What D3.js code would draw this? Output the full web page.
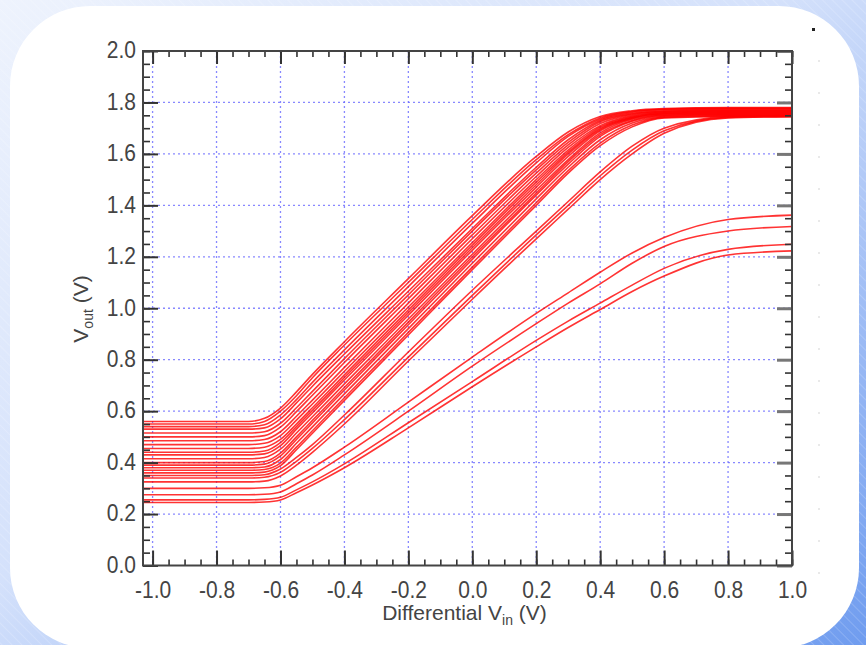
<!DOCTYPE html>
<html>
<head>
<meta charset="utf-8">
<script src="https://cdn.jsdelivr.net/npm/d3@7/dist/d3.min.js"></script>
<style>
  html, body { margin: 0; padding: 0; background: #fff; }
  svg { display: block; }
  text { font-family: "Liberation Sans", Arial, sans-serif; }
</style>
</head>
<body>
<svg id="chart" width="866" height="645"></svg>
<script>
// Differential input sweep (V) at which each run's output was sampled
const vin = [-1.03, -0.7, -0.65, -0.6, -0.55, -0.5, -0.4, -0.2, 0.0, 0.2, 0.3, 0.4, 0.5, 0.6, 0.8, 1.0];

// Main cluster of Monte Carlo runs, Vout (V)
const mainRuns = [
  [0.56, 0.56, 0.572, 0.612, 0.675, 0.743, 0.870, 1.115, 1.360, 1.590, 1.685, 1.745, 1.768, 1.776, 1.780, 1.780],
  [0.55, 0.55, 0.560, 0.600, 0.660, 0.730, 0.857, 1.100, 1.345, 1.578, 1.675, 1.740, 1.765, 1.774, 1.778, 1.778],
  [0.54, 0.54, 0.547, 0.585, 0.645, 0.712, 0.838, 1.084, 1.330, 1.565, 1.668, 1.735, 1.762, 1.772, 1.776, 1.776],
  [0.53, 0.53, 0.535, 0.570, 0.632, 0.697, 0.822, 1.066, 1.310, 1.548, 1.655, 1.730, 1.758, 1.768, 1.772, 1.772],
  [0.515, 0.515, 0.520, 0.553, 0.613, 0.677, 0.804, 1.052, 1.300, 1.538, 1.645, 1.725, 1.755, 1.766, 1.770, 1.770],
  [0.50, 0.50, 0.505, 0.538, 0.598, 0.662, 0.789, 1.037, 1.285, 1.525, 1.635, 1.718, 1.752, 1.764, 1.768, 1.768],
  [0.485, 0.485, 0.490, 0.520, 0.580, 0.643, 0.770, 1.020, 1.270, 1.512, 1.625, 1.710, 1.748, 1.762, 1.766, 1.766],
  [0.47, 0.47, 0.475, 0.505, 0.565, 0.628, 0.755, 1.005, 1.255, 1.500, 1.615, 1.705, 1.745, 1.760, 1.764, 1.764],
  [0.455, 0.455, 0.460, 0.490, 0.550, 0.613, 0.741, 0.993, 1.245, 1.490, 1.607, 1.700, 1.742, 1.758, 1.762, 1.762],
  [0.44, 0.44, 0.445, 0.478, 0.540, 0.603, 0.731, 0.983, 1.235, 1.480, 1.600, 1.695, 1.740, 1.756, 1.760, 1.760],
  [0.43, 0.43, 0.434, 0.466, 0.530, 0.593, 0.721, 0.973, 1.225, 1.470, 1.590, 1.690, 1.738, 1.755, 1.758, 1.758],
  [0.415, 0.415, 0.420, 0.452, 0.515, 0.578, 0.706, 0.958, 1.210, 1.458, 1.578, 1.682, 1.735, 1.752, 1.756, 1.756],
  [0.40, 0.40, 0.404, 0.437, 0.500, 0.564, 0.692, 0.946, 1.200, 1.448, 1.570, 1.675, 1.730, 1.750, 1.754, 1.754],
  [0.39, 0.39, 0.394, 0.426, 0.490, 0.554, 0.682, 0.936, 1.190, 1.440, 1.560, 1.668, 1.727, 1.748, 1.752, 1.752],
  [0.38, 0.38, 0.383, 0.412, 0.475, 0.539, 0.667, 0.921, 1.175, 1.425, 1.548, 1.655, 1.720, 1.745, 1.750, 1.750],
  [0.37, 0.37, 0.373, 0.398, 0.460, 0.524, 0.652, 0.906, 1.160, 1.410, 1.535, 1.642, 1.712, 1.742, 1.748, 1.748],
  [0.36, 0.36, 0.363, 0.388, 0.450, 0.514, 0.642, 0.896, 1.150, 1.400, 1.525, 1.632, 1.705, 1.740, 1.746, 1.746]
];

// Slower runs that still reach the upper rail
const slowRuns = [
  [0.35, 0.35, 0.353, 0.375, 0.420, 0.470, 0.585, 0.830, 1.070, 1.300, 1.415, 1.530, 1.630, 1.700, 1.745, 1.750],
  [0.34, 0.34, 0.343, 0.362, 0.405, 0.455, 0.567, 0.810, 1.050, 1.285, 1.400, 1.515, 1.615, 1.690, 1.742, 1.746],
  [0.325, 0.325, 0.328, 0.348, 0.390, 0.440, 0.550, 0.795, 1.035, 1.270, 1.385, 1.500, 1.600, 1.680, 1.740, 1.745]
];

// Low-gain runs that settle well below the rail
const lowRuns = [
  [0.30, 0.30, 0.302, 0.312, 0.345, 0.380, 0.460, 0.635, 0.810, 0.980, 1.060, 1.140, 1.215, 1.275, 1.345, 1.362],
  [0.275, 0.275, 0.277, 0.286, 0.318, 0.352, 0.430, 0.600, 0.775, 0.940, 1.020, 1.095, 1.175, 1.240, 1.300, 1.318],
  [0.255, 0.255, 0.257, 0.265, 0.294, 0.325, 0.395, 0.555, 0.715, 0.875, 0.950, 1.020, 1.090, 1.155, 1.229, 1.249],
  [0.245, 0.245, 0.247, 0.255, 0.283, 0.313, 0.380, 0.535, 0.695, 0.850, 0.925, 0.995, 1.065, 1.125, 1.207, 1.223]
];

const xTicks = [-1.0, -0.8, -0.6, -0.4, -0.2, 0.0, 0.2, 0.4, 0.6, 0.8, 1.0];
const yTicks = [0.0, 0.2, 0.4, 0.6, 0.8, 1.0, 1.2, 1.4, 1.6, 1.8, 2.0];
const xMinor = d3.range(-1.0, 1.0001, 0.05).map(v => +v.toFixed(2));
const yMinor = d3.range(0.0, 2.0001, 0.05).map(v => +v.toFixed(2));

const svg = d3.select("#chart");
const W = 866, H = 645;

// ---- backdrop: blue gradient with fine diagonal hatching, white card ----
const defs = svg.append("defs");
const bg = defs.append("linearGradient").attr("id", "bgGrad")
  .attr("x1", "0%").attr("y1", "0%").attr("x2", "100%").attr("y2", "100%");
bg.append("stop").attr("offset", "0%").attr("stop-color", "#eef3fd");
bg.append("stop").attr("offset", "45%").attr("stop-color", "#d4e1fb");
bg.append("stop").attr("offset", "100%").attr("stop-color", "#6f9cef");
const hatch = defs.append("pattern").attr("id", "hatch")
  .attr("width", 7).attr("height", 7).attr("patternUnits", "userSpaceOnUse")
  .attr("patternTransform", "rotate(-45)");
hatch.append("line").attr("x1", 0).attr("y1", 0).attr("x2", 0).attr("y2", 7)
  .attr("stroke", "#ffffff").attr("stroke-width", 1).attr("stroke-opacity", 0.35);

svg.append("rect").attr("width", W).attr("height", H).attr("fill", "url(#bgGrad)");
svg.append("rect").attr("width", W).attr("height", H).attr("fill", "url(#hatch)");
svg.append("rect").attr("x", 10).attr("y", 6).attr("width", 849).attr("height", 642)
  .attr("rx", 80).attr("fill", "#ffffff");

// ---- plot area ----
const plotL = 143, plotR = 792, plotT = 51, plotB = 565.5;
const x = d3.scaleLinear().domain([-1.03, 1.0]).range([plotL, plotR]);
const y = d3.scaleLinear().domain([0, 2.0]).range([plotB, plotT]);

// dotted blue grid
const grid = svg.append("g").attr("stroke", "#6a6aff").attr("stroke-width", 1.3)
  .attr("stroke-dasharray", "2,3").attr("stroke-opacity", 0.8);
grid.selectAll("line.v").data(xTicks.filter(v => v < 1.0)).join("line")
  .attr("x1", d => x(d)).attr("x2", d => x(d)).attr("y1", plotT).attr("y2", plotB);
grid.selectAll("line.h").data(yTicks.filter(v => v > 0 && v < 2.0)).join("line")
  .attr("x1", plotL).attr("x2", plotR).attr("y1", d => y(d)).attr("y2", d => y(d));

// traces
const line = d3.line().x((d, i) => x(vin[i])).y(d => y(d)).curve(d3.curveMonotoneX);
const traces = svg.append("g").attr("fill", "none").attr("stroke", "#ff0000")
  .attr("stroke-width", 1.6).attr("stroke-opacity", 0.8);
[lowRuns, slowRuns, mainRuns].forEach(group => {
  traces.append("g").selectAll("path").data(group).join("path").attr("d", line);
});

// axes with inward ticks on all four sides
function styleAxis(g, color, width) {
  g.select(".domain").remove();
  g.selectAll(".tick line").attr("stroke", color).attr("stroke-width", width);
}
const labelColor = "#444";
const stretch = "scale(1,1.15)";

// minor ticks
svg.append("g").attr("transform", `translate(${plotL},0)`)
  .call(d3.axisLeft(y).tickValues(yMinor).tickSize(-7).tickFormat(""))
  .call(g => styleAxis(g, "#333", 1.6));
svg.append("g").attr("transform", `translate(${plotR},0)`)
  .call(d3.axisRight(y).tickValues(yMinor).tickSize(-7).tickFormat(""))
  .call(g => styleAxis(g, "#333", 1.6));
svg.append("g").attr("transform", `translate(0,${plotB})`)
  .call(d3.axisBottom(x).tickValues(xMinor).tickSize(-6).tickFormat(""))
  .call(g => styleAxis(g, "#333", 1.6));
svg.append("g").attr("transform", `translate(0,${plotT})`)
  .call(d3.axisTop(x).tickValues(xMinor).tickSize(-6).tickFormat(""))
  .call(g => styleAxis(g, "#333", 1.6));

// major ticks + labels
const fmt = d3.format(".1f");
svg.append("g").attr("transform", `translate(${plotL},0)`)
  .call(d3.axisLeft(y).tickValues(yTicks).tickSize(-15).tickPadding(7).tickFormat(fmt))
  .call(g => styleAxis(g, "#333", 2))
  .call(g => g.selectAll("text").attr("fill", labelColor).attr("font-size", 21)
    .attr("dy", "0.28em").attr("transform", stretch));
svg.append("g").attr("transform", `translate(${plotR},0)`)
  .call(d3.axisRight(y).tickValues(yTicks).tickSize(-15).tickFormat(""))
  .call(g => styleAxis(g, "#777", 3));
svg.append("g").attr("transform", `translate(0,${plotB})`)
  .call(d3.axisBottom(x).tickValues(xTicks).tickSize(-15).tickPadding(13).tickFormat(d => fmt(d).replace("\u2212", "-")))
  .call(g => styleAxis(g, "#333", 2))
  .call(g => g.selectAll("text").attr("fill", labelColor).attr("font-size", 21).attr("transform", stretch));
svg.append("g").attr("transform", `translate(0,${plotT})`)
  .call(d3.axisTop(x).tickValues(xTicks).tickSize(-13).tickFormat(""))
  .call(g => styleAxis(g, "#333", 2));

// frame
svg.append("rect").attr("x", plotL).attr("y", plotT)
  .attr("width", plotR - plotL).attr("height", plotB - plotT)
  .attr("fill", "none").attr("stroke", "#444").attr("stroke-width", 2);

// axis titles
const xt = svg.append("text").attr("x", (plotL + plotR) / 2 - 3).attr("y", 620)
  .attr("text-anchor", "middle").attr("font-size", 21).attr("fill", labelColor);
xt.append("tspan").text("Differential V");
xt.append("tspan").attr("font-size", 14).attr("dy", 5).text("in");
xt.append("tspan").attr("dy", -5).text(" (V)");

const yt = svg.append("text").attr("transform", "translate(88,309) rotate(-90)")
  .attr("text-anchor", "middle").attr("font-size", 21).attr("fill", labelColor);
yt.append("tspan").text("V");
yt.append("tspan").attr("font-size", 14).attr("dy", 5).text("out");
yt.append("tspan").attr("dy", -5).text(" (V)");

// small stray marks at the right edge of the card
svg.append("rect").attr("x", 812).attr("y", 28).attr("width", 3).attr("height", 3).attr("fill", "#222");
svg.append("line").attr("x1", 819).attr("x2", 819).attr("y1", 60).attr("y2", 580)
  .attr("stroke", "#e2e2e2").attr("stroke-width", 1.5).attr("stroke-dasharray", "2,30");
</script>
</body>
</html>
